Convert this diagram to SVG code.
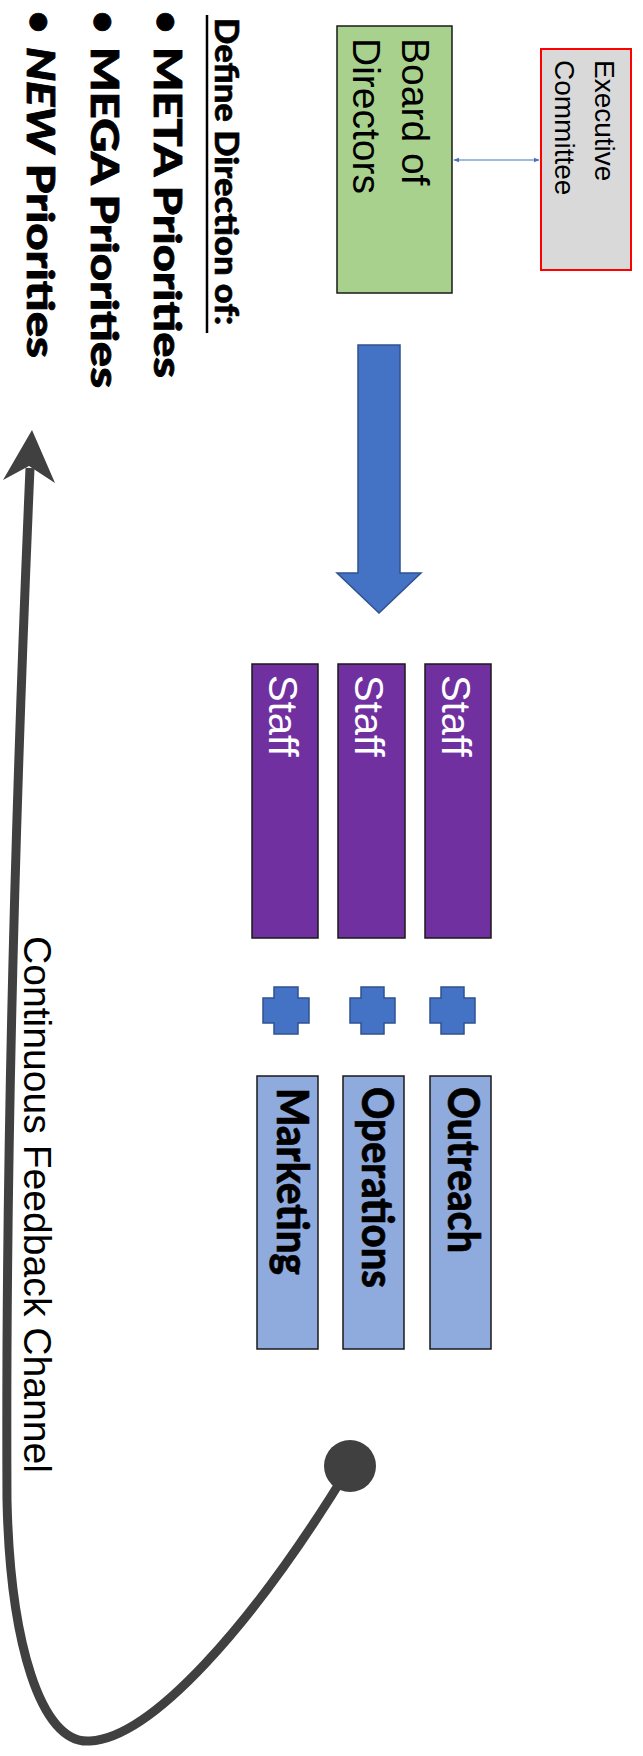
<svg xmlns="http://www.w3.org/2000/svg" width="643" height="1756" viewBox="0 0 643 1756">
<style>
.sans{font-family:"Liberation Sans",Arial,sans-serif}
.bold{font-family:Lato,"Noto Sans",sans-serif;font-weight:900}
.staff{fill:#7030a0;stroke:#1a1a1a;stroke-width:1.5}
.dept{fill:#8faadc;stroke:#1a1a1a;stroke-width:1.5}
.plus{fill:#4472c4;stroke:#2f528f;stroke-width:1.5}
.stafftxt{fill:#ffffff;font-size:40px}
.depttxt{fill:#000;font-size:43px;stroke:#000;stroke-width:0.6}
.lefttxt{fill:#000;font-size:38px;stroke:#000;stroke-width:0.8}
</style>
<defs>
<marker id="ah" viewBox="0 0 10 10" refX="9" refY="5" markerWidth="6" markerHeight="6" orient="auto-start-reverse" markerUnits="userSpaceOnUse">
<path d="M0,1 L10,5 L0,9 z" fill="#4472c4"/>
</marker>
</defs>

<g id="priorities">
<text class="bold" style="font-size:33px;stroke:#000;stroke-width:0.6" transform="translate(215,18) rotate(90)" textLength="307" lengthAdjust="spacingAndGlyphs">Define Direction of:</text>
<line x1="207" y1="15" x2="207" y2="333" stroke="#000" stroke-width="2.5"/>
<text class="bold lefttxt" transform="translate(154,22) rotate(90)" text-anchor="middle">•</text>
<text class="bold lefttxt" transform="translate(154,47) rotate(90)" textLength="331" lengthAdjust="spacingAndGlyphs">META Priorities</text>
<text class="bold lefttxt" transform="translate(91,22) rotate(90)" text-anchor="middle">•</text>
<text class="bold lefttxt" transform="translate(91,47) rotate(90)" textLength="341" lengthAdjust="spacingAndGlyphs">MEGA Priorities</text>
<text class="bold lefttxt" transform="translate(27,22) rotate(90)" text-anchor="middle">•</text>
<text class="bold lefttxt" transform="translate(27,47) rotate(90)" textLength="311" lengthAdjust="spacingAndGlyphs"><tspan font-style="italic">NEW</tspan> Priorities</text>
</g>

<g id="board">
<rect x="337" y="26" width="115" height="267" fill="#a9d18e" stroke="#1a1a1a" stroke-width="1.5"/>
<text class="sans" font-size="39" fill="#000" transform="translate(402,38) rotate(90)">Board of</text>
<text class="sans" font-size="39" fill="#000" transform="translate(353,38) rotate(90)">Directors</text>
</g>

<g id="executive">
<rect x="541" y="49" width="90" height="221" fill="#d9d9d9" stroke="#ff0000" stroke-width="2"/>
<text class="sans" font-size="28" fill="#000" transform="translate(595,60) rotate(90)">Executive</text>
<text class="sans" font-size="28" fill="#000" transform="translate(555,60) rotate(90)">Committee</text>
</g>

<g id="staff1">
<rect class="staff" x="252" y="664" width="66" height="274"/>
<text class="sans stafftxt" transform="translate(269,675) rotate(90)">Staff</text>
</g>
<g id="staff2">
<rect class="staff" x="338" y="664" width="67" height="274"/>
<text class="sans stafftxt" transform="translate(355,675) rotate(90)">Staff</text>
</g>
<g id="staff3">
<rect class="staff" x="425" y="664" width="66" height="274"/>
<text class="sans stafftxt" transform="translate(442,675) rotate(90)">Staff</text>
</g>

<g id="plus1"><path class="plus" d="M274,987 H298 V998 H309 V1023 H298 V1034 H274 V1023 H263 V998 H274 Z"/></g>
<g id="plus2"><path class="plus" d="M361,987 H384 V998 H395 V1023 H384 V1034 H361 V1023 H350 V998 H361 Z"/></g>
<g id="plus3"><path class="plus" d="M441,987 H464 V998 H475 V1023 H464 V1034 H441 V1023 H430 V998 H441 Z"/></g>

<g id="marketing">
<rect class="dept" x="257" y="1076" width="61" height="273"/>
<text class="bold depttxt" transform="translate(277,1088) rotate(90)" textLength="187" lengthAdjust="spacingAndGlyphs">Marketing</text>
</g>
<g id="operations">
<rect class="dept" x="343" y="1076" width="61" height="273"/>
<text class="bold depttxt" transform="translate(362,1087) rotate(90)" textLength="201" lengthAdjust="spacingAndGlyphs">Operations</text>
</g>
<g id="outreach">
<rect class="dept" x="430" y="1076" width="61" height="273"/>
<text class="bold depttxt" transform="translate(448,1087) rotate(90)" textLength="166" lengthAdjust="spacingAndGlyphs">Outreach</text>
</g>

<g id="connectors">
<line x1="454" y1="160" x2="539" y2="160" stroke="#4472c4" stroke-width="1.2" marker-start="url(#ah)" marker-end="url(#ah)"/>
<path d="M358,345 H400 V573 H421 L379,613 L337,573 H358 Z" fill="#4472c4" stroke="#2f528f" stroke-width="1.5"/>
<path d="M350,1466 C250,1630 150,1738 90,1741 C40,1745 10,1640 7,1500 C5,1100 20,700 30,468" fill="none" stroke="#404040" stroke-width="9"/>
<polygon points="32,430 55,483 29,466 3,480" fill="#404040"/>
<circle cx="350" cy="1466" r="26" fill="#404040"/>
<text class="sans" font-size="39" fill="#000" transform="translate(24,936) rotate(90)" textLength="537" lengthAdjust="spacingAndGlyphs">Continuous Feedback Channel</text>
</g>
</svg>
